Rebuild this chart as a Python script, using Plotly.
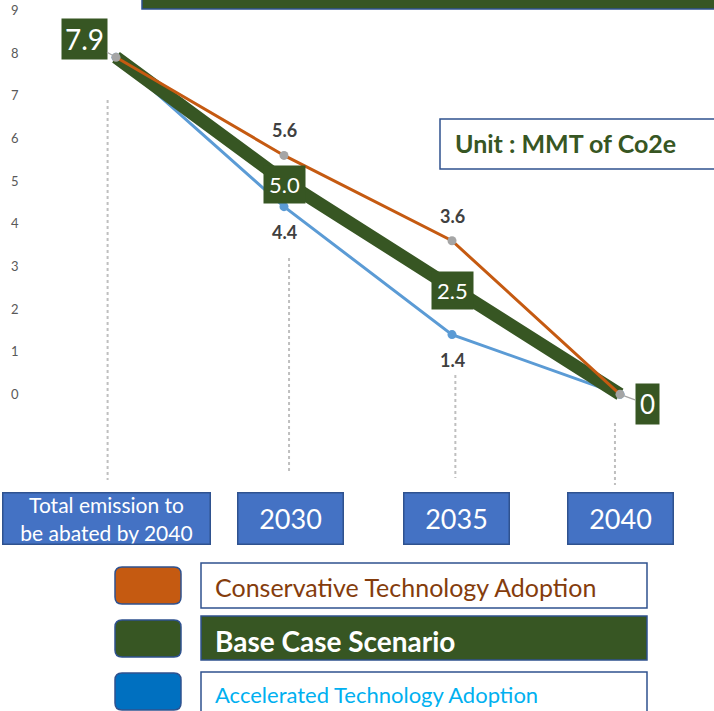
import plotly.graph_objects as go

# ---- data -------------------------------------------------------------
categories = ["Total emission to<br>be abated by 2040", "2030", "2035", "2040"]
conservative = [7.9, 5.6, 3.6, 0]
base_case = [7.9, 5.0, 2.5, 0]
accelerated = [7.9, 4.4, 1.4, 0]
y_ticks = [0, 1, 2, 3, 4, 5, 6, 7, 8, 9]
series_names = ["Conservative Technology Adoption", "Base Case Scenario",
                "Accelerated Technology Adoption"]
unit_text = "Unit : MMT of Co2e"

# ---- styling ----------------------------------------------------------
W, H = 714, 711
FONT = "Lato"
ORANGE = "#C55A11"
GREEN = "#375623"
BLUE_LINE = "#5B9BD5"
BLUE_BOX = "#4472C4"
BLUE_SQ = "#0070C0"
EDGE = "#2F528F"
GREY = "#A5A5A5"
LABEL = "#404040"


def fx(p):
    return p / W


def fy(p):
    return 1 - p / H


def fmt(v):
    return "0" if v == 0 else f"{v:.1f}"


def rounded_rect(x0, y0, x1, y1, r):
    rx, ry = r / W, r / H
    a, b, c, d = fx(x0), fy(y0), fx(x1), fy(y1)
    return (f"M {a+rx},{b} L {c-rx},{b} Q {c},{b} {c},{b-ry} "
            f"L {c},{d+ry} Q {c},{d} {c-rx},{d} L {a+rx},{d} "
            f"Q {a},{d} {a},{d+ry} L {a},{b-ry} Q {a},{b} {a+rx},{b} Z")


fig = go.Figure()

# lines: accelerated at the bottom, base case thick, conservative on top
fig.add_trace(go.Scatter(
    x=categories, y=accelerated, mode="lines+markers",
    line=dict(color=BLUE_LINE, width=3),
    marker=dict(color=BLUE_LINE, size=9), hoverinfo="skip"))
fig.add_trace(go.Scatter(
    x=categories, y=base_case, mode="lines",
    line=dict(color=GREEN, width=13), hoverinfo="skip"))
fig.add_trace(go.Scatter(
    x=categories, y=conservative, mode="lines+markers",
    line=dict(color=ORANGE, width=3),
    marker=dict(color=GREY, size=9), hoverinfo="skip"))

annotations = []
n = len(categories)

# value labels for the conservative (above) and accelerated (below) series
for i in range(1, n - 1):
    annotations.append(dict(x=i, y=conservative[i], xref="x", yref="y",
                            text=f"<b>{fmt(conservative[i])}</b>", showarrow=False,
                            yshift=25, font=dict(family=FONT, size=18, color=LABEL)))
    annotations.append(dict(x=i, y=accelerated[i], xref="x", yref="y",
                            text=f"<b>{fmt(accelerated[i])}</b>", showarrow=False,
                            yshift=-25, font=dict(family=FONT, size=18, color=LABEL)))
    annotations.append(dict(x=i, y=base_case[i], xref="x", yref="y",
                            text=fmt(base_case[i]), showarrow=False, yshift=-3,
                            bgcolor=GREEN, borderpad=5,
                            font=dict(family=FONT, size=22, color="white")))

# start / end labels with leader lines
annotations.append(dict(x=0, y=base_case[0], xref="x", yref="y", text=fmt(base_case[0]),
                        showarrow=True, arrowhead=0, arrowcolor=GREY, arrowwidth=1.2,
                        ax=-32, ay=-18, standoff=3, bgcolor=GREEN, borderpad=3,
                        font=dict(family=FONT, size=28, color="white")))
annotations.append(dict(x=n - 1, y=base_case[-1], xref="x", yref="y", text=fmt(base_case[-1]),
                        showarrow=True, arrowhead=0, arrowcolor=GREY, arrowwidth=1.2,
                        ax=27, ay=10, standoff=3, bgcolor=GREEN, borderpad=4,
                        font=dict(family=FONT, size=26, color="white")))

# category boxes beneath the chart
box_w = [210, 108, 108, 108]
box_dx = [-10, 6, 4, 0]
box_fs = [21, 27, 27, 27]
for i, cat in enumerate(categories):
    annotations.append(dict(x=i, y=fy(518), xref="x", yref="paper", yanchor="middle",
                            text=cat, showarrow=False, xshift=box_dx[i],
                            width=box_w[i] - 4, height=50,
                            bgcolor=BLUE_BOX, bordercolor=EDGE, borderwidth=1.5, borderpad=0,
                            font=dict(family=FONT, size=box_fs[i], color="white")))

shapes = []

# dotted drop lines from the points down to the boxes
drop = [(100, 480), (258, 472), (375, 478), (423, 485)]
drop_dx = [-0.05, 0.03, 0.02, -0.03]
for i, (top, bot) in enumerate(drop):
    shapes.append(dict(type="line", xref="x", yref="paper", x0=i + drop_dx[i],
                       x1=i + drop_dx[i], y0=fy(top), y1=fy(bot),
                       line=dict(color="#BFBFBF", width=2, dash="dot"), layer="below"))

# banner strip at the top
shapes.append(dict(type="rect", xref="paper", yref="paper", x0=fx(142), x1=fx(720),
                   y0=fy(9), y1=fy(-5), fillcolor=GREEN, line=dict(color=EDGE, width=1.5)))

# unit box
shapes.append(dict(type="rect", xref="paper", yref="paper", x0=fx(440), x1=fx(720),
                   y0=fy(169), y1=fy(119), fillcolor="white", line=dict(color=EDGE, width=1.5)))
annotations.append(dict(x=fx(453), y=fy(143), xref="paper", yref="paper",
                        xanchor="left", yanchor="middle",
                        text=f"<b>{unit_text}</b>", showarrow=False,
                        font=dict(family=FONT, size=25, color=GREEN)))

# legend
sq_colors = [ORANGE, GREEN, BLUE_SQ]
rows = [(567, 604, 563, 608), (620, 657, 616, 660), (673, 710, 672, 716)]
txt_y = [587, 641, 694]
txt_colors = ["#843C0C", "white", "#00B0F0"]
txt_size = [25, 28, 22]
box_fill = ["white", GREEN, "white"]
for k, name in enumerate(series_names):
    s0, s1, b0, b1 = rows[k]
    shapes.append(dict(type="path", xref="paper", yref="paper",
                       path=rounded_rect(115, s0, 181, s1, 7),
                       fillcolor=sq_colors[k], line=dict(color=EDGE, width=1.5)))
    shapes.append(dict(type="rect", xref="paper", yref="paper", x0=fx(201), x1=fx(647),
                       y0=fy(b1), y1=fy(b0), fillcolor=box_fill[k],
                       line=dict(color=EDGE, width=1.5)))
    label = f"<b>{name}</b>" if k == 1 else name
    annotations.append(dict(x=fx(213), y=fy(txt_y[k]), xref="paper", yref="paper",
                            xanchor="left", yanchor="middle", text=label, showarrow=False,
                            font=dict(family=FONT, size=txt_size[k], color=txt_colors[k])))

px_per_unit = (394.3 - 57.3) / 7.9
y_top = 9 + 10.4 / px_per_unit
y_bot = y_top - H / px_per_unit
x_unit = 168
x_left = -116 / x_unit

fig.update_layout(
    width=W, height=H,
    margin=dict(l=0, r=0, t=0, b=0),
    paper_bgcolor="white", plot_bgcolor="white",
    showlegend=False,
    font=dict(family=FONT),
    xaxis=dict(type="category", range=[x_left, x_left + W / x_unit], visible=False),
    yaxis=dict(range=[y_bot, y_top], tickvals=y_ticks, showgrid=False, zeroline=False,
               showline=False, ticks="", ticklabelposition="inside", ticklabelstandoff=8,
               tickfont=dict(family=FONT, size=13, color="#595959")),
    shapes=shapes,
    annotations=annotations,
)

fig.write_html("out.html")
